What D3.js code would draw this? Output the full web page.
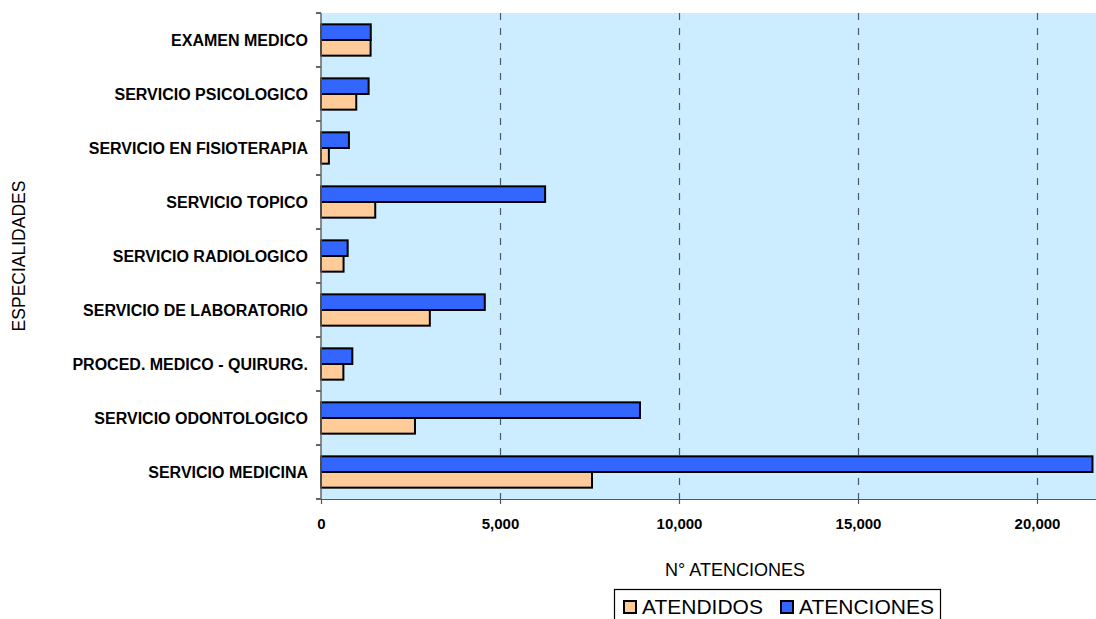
<!DOCTYPE html>
<html><head><meta charset="utf-8">
<script src="https://cdn.jsdelivr.net/npm/d3@7"></script>
<style>body{margin:0;background:#fff;}svg{display:block;font-family:Arial,"Liberation Sans",sans-serif;}</style>
</head><body>
<svg id="c" width="1096" height="619"></svg>
<script>
const categories = ["EXAMEN MEDICO","SERVICIO PSICOLOGICO","SERVICIO EN FISIOTERAPIA","SERVICIO TOPICO","SERVICIO RADIOLOGICO","SERVICIO DE LABORATORIO","PROCED. MEDICO - QUIRURG.","SERVICIO ODONTOLOGICO","SERVICIO MEDICINA"];
const atenciones = [1390,1330,780,6260,745,4575,875,8910,21550];
const atendidos = [1385,985,220,1515,630,3040,625,2625,7570];
const seriesNames = ["ATENDIDOS","ATENCIONES"];
const xTicks = [0,5000,10000,15000,20000];

const svg = d3.select("#c");
const pL = 321, pT = 13, pB = 499, pR = 1096;
const x = d3.scaleLinear().domain([0,20000]).range([pL,1037]);
const y = d3.scaleBand().domain(categories).range([pT,pB]);
const bh = y.bandwidth()*0.29;

svg.append("rect").attr("x",pL).attr("y",pT).attr("width",pR-pL).attr("height",pB-pT).attr("fill","#CCECFF");

// grid
svg.append("g").selectAll("line").data(xTicks.filter(d=>d>0)).join("line")
  .attr("x1",d=>x(d)+0.5).attr("x2",d=>x(d)+0.5).attr("y1",pT).attr("y2",pB)
  .attr("stroke","#4d5a66").attr("stroke-width",1.2).attr("stroke-dasharray","7,8");

// bars
const g = svg.append("g");
g.selectAll(".b").data(categories).join("rect").attr("class","b")
  .attr("x",x(0)).attr("y",d=>y(d)+y.bandwidth()/2-bh)
  .attr("width",(d,i)=>x(atenciones[i])-x(0)).attr("height",bh)
  .attr("fill","#3366FF").attr("stroke","#000").attr("stroke-width",2);
g.selectAll(".o").data(categories).join("rect").attr("class","o")
  .attr("x",x(0)).attr("y",d=>y(d)+y.bandwidth()/2)
  .attr("width",(d,i)=>x(atendidos[i])-x(0)).attr("height",bh)
  .attr("fill","#FFCC99").attr("stroke","#000").attr("stroke-width",2);

// axes
const xa = svg.append("g").attr("transform",`translate(0,${pB})`)
  .call(d3.axisBottom(x).tickValues(xTicks).tickSize(5).tickPadding(14).tickFormat(d3.format(",")));
xa.select(".domain").remove();
xa.append("line").attr("x1",pL).attr("x2",pR).attr("y1",0.5).attr("y2",0.5).attr("stroke","#555").attr("stroke-width",1.2);
xa.selectAll(".tick line").attr("stroke","#555").attr("stroke-width",1.2);
xa.selectAll("text").attr("font-size",15).attr("font-weight","bold").attr("fill","#000").attr("font-family","Arial, Liberation Sans, sans-serif");

const tickYs = d3.range(10).map(i=>pT+i*y.step());
svg.append("g").selectAll("line").data(tickYs).join("line")
  .attr("x1",pL-5).attr("x2",pL).attr("y1",d=>d).attr("y2",d=>d).attr("stroke","#000").attr("stroke-width",1.2);
svg.append("line").attr("x1",pL).attr("x2",pL).attr("y1",pT).attr("y2",pB).attr("stroke","#666").attr("stroke-width",1.5);

svg.append("g").selectAll("text").data(categories).join("text")
  .attr("x",308).attr("y",d=>y(d)+y.bandwidth()/2+6)
  .attr("text-anchor","end").attr("font-size",16).attr("font-weight","bold").text(d=>d);

// titles
svg.append("text").attr("transform","translate(25,256) rotate(-90)").attr("text-anchor","middle")
  .attr("font-size",17.5).text("ESPECIALIDADES");
svg.append("text").attr("x",735).attr("y",576).attr("text-anchor","middle").attr("font-size",18).text("N° ATENCIONES");

// legend
const lg = svg.append("g");
lg.append("rect").attr("x",614.5).attr("y",589.5).attr("width",326).attr("height",40).attr("fill","#fff").attr("stroke","#000").attr("stroke-width",1.2);
const colors = ["#FFCC99","#3366FF"];
const lx = [623,780];
seriesNames.forEach((s,i)=>{
  lg.append("rect").attr("x",lx[i]+1).attr("y",601).attr("width",12).attr("height",12).attr("fill",colors[i]).attr("stroke","#000").attr("stroke-width",2);
  lg.append("text").attr("x",lx[i]+19).attr("y",614).attr("font-size",21).text(s);
});
</script>
</body></html>
